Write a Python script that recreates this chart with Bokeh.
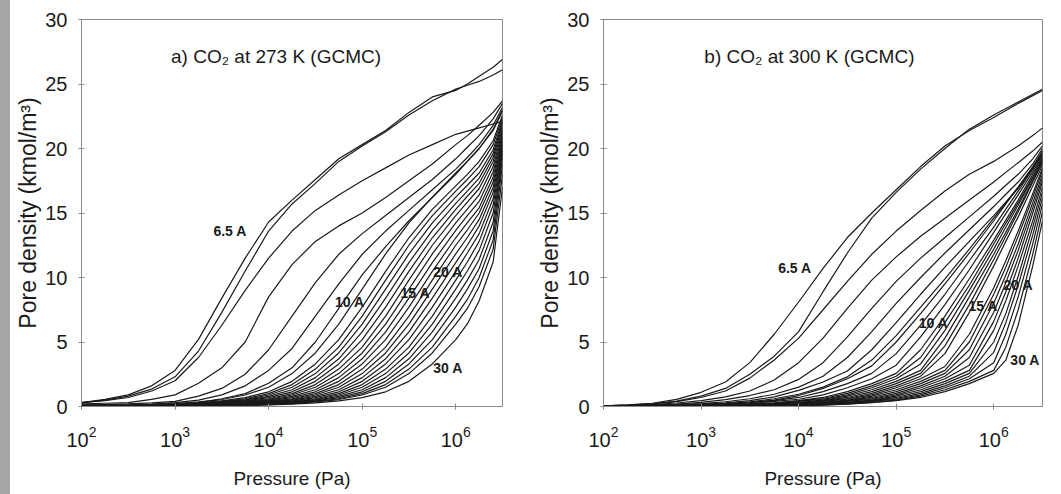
from bokeh.plotting import figure
from bokeh.layouts import row
from bokeh.models import Div
from bokeh.core.properties import value
from bokeh.embed import file_html
from bokeh.resources import INLINE

# ---------------- data ----------------
pressure = [1e2, 1.78e2, 3.16e2, 5.62e2, 1e3, 1.78e3, 3.16e3, 5.62e3, 1e4, 1.78e4, 3.16e4,
            5.62e4, 1e5, 1.78e5, 3.16e5, 5.62e5, 1e6, 1.33e6, 1.78e6, 2.51e6, 3.16e6]

pore_widths = [6.5, 7, 7.5, 8, 8.5, 9, 9.5, 10, 11, 12, 13, 14, 15, 16, 17, 18, 19, 20,
               21, 22, 23, 24, 25, 26, 27, 28, 29, 30]

density_273 = [
    [0.3, 0.55, 0.9, 1.6, 2.8, 5.2, 8.4, 11.5, 14.3, 16.0, 17.6, 19.2, 20.3, 21.4, 22.8, 24.0, 24.5, 25.0, 25.6, 26.3, 26.9],
    [0.3, 0.5, 0.8, 1.35, 2.3, 4.3, 7.3, 10.5, 13.6, 15.7, 17.3, 19.0, 20.2, 21.3, 22.6, 23.7, 24.6, 24.9, 25.2, 25.7, 26.1],
    [0.3, 0.45, 0.7, 1.2, 2.0, 3.8, 6.3, 9.0, 11.5, 13.6, 15.2, 16.4, 17.5, 18.5, 19.5, 20.3, 21.1, 21.35, 21.6, 21.9, 22.1],
    [0.2, 0.25, 0.3, 0.55, 0.9, 1.8, 3.0, 5.0, 8.5, 11.0, 12.8, 14.0, 15.0, 16.2, 17.5, 18.8, 20.3, 21.0, 21.8, 22.8, 23.7],
    [0.1, 0.15, 0.2, 0.28, 0.4, 0.8, 1.4, 2.5, 4.4, 7.0, 9.6, 11.8, 13.4, 14.8, 16.2, 17.6, 19.2, 20.1, 21.0, 22.3, 23.5],
    [0.1, 0.1, 0.1, 0.18, 0.3, 0.5, 0.9, 1.6, 2.8, 4.5, 7.0, 9.5, 11.8, 13.6, 15.2, 16.8, 18.4, 19.3, 20.3, 21.8, 23.2],
    [0.1, 0.1, 0.1, 0.14, 0.2, 0.3, 0.6, 1.0, 1.8, 3.0, 5.0, 7.6, 10.2, 12.4, 14.4, 16.2, 18.0, 19.0, 20.0, 21.5, 23.0],
    [0.05, 0.07, 0.1, 0.15, 0.23, 0.36, 0.54, 0.89, 1.49, 2.55, 4.15, 6.38, 9.1, 11.83, 14.23, 16.23, 18.1, 19.0, 20.0, 21.4, 22.9],
    [0.04, 0.06, 0.08, 0.12, 0.19, 0.28, 0.44, 0.69, 1.14, 1.95, 3.3, 5.18, 7.7, 10.48, 13.08, 15.28, 17.1, 18.0, 19.0, 20.6, 22.6],
    [0.04, 0.05, 0.07, 0.11, 0.17, 0.25, 0.40, 0.60, 1.00, 1.70, 2.90, 4.60, 7.00, 9.80, 12.50, 14.80, 16.70, 17.6, 18.6, 20.3, 22.4],
    [0.03, 0.05, 0.07, 0.10, 0.15, 0.23, 0.36, 0.54, 0.89, 1.49, 2.55, 4.15, 6.38, 9.10, 11.83, 14.23, 16.23, 17.15, 18.1, 19.9, 22.2],
    [0.03, 0.04, 0.06, 0.09, 0.13, 0.21, 0.32, 0.49, 0.78, 1.30, 2.24, 3.70, 5.78, 8.40, 11.15, 13.65, 15.75, 16.7, 17.7, 19.6, 22.0],
    [0.03, 0.04, 0.06, 0.08, 0.12, 0.19, 0.28, 0.44, 0.69, 1.14, 1.95, 3.30, 5.18, 7.70, 10.48, 13.08, 15.28, 16.3, 17.3, 19.3, 21.8],
    [0.02, 0.03, 0.05, 0.07, 0.10, 0.17, 0.25, 0.40, 0.60, 1.00, 1.70, 2.90, 4.60, 7.00, 9.80, 12.50, 14.80, 15.85, 16.9, 19.0, 21.6],
    [0.02, 0.03, 0.05, 0.07, 0.09, 0.15, 0.23, 0.36, 0.54, 0.89, 1.49, 2.55, 4.15, 6.38, 9.10, 11.83, 14.23, 15.3, 16.4, 18.6, 21.4],
    [0.02, 0.03, 0.04, 0.06, 0.09, 0.13, 0.21, 0.32, 0.49, 0.78, 1.30, 2.24, 3.70, 5.78, 8.40, 11.15, 13.65, 14.8, 15.9, 18.2, 21.2],
    [0.02, 0.03, 0.04, 0.06, 0.08, 0.12, 0.19, 0.28, 0.44, 0.69, 1.14, 1.95, 3.30, 5.18, 7.70, 10.48, 13.08, 14.25, 15.4, 17.8, 21.0],
    [0.02, 0.03, 0.04, 0.05, 0.07, 0.10, 0.17, 0.25, 0.40, 0.60, 1.00, 1.70, 2.90, 4.60, 7.00, 9.80, 12.50, 13.7, 15.0, 17.4, 20.8],
    [0.02, 0.02, 0.03, 0.05, 0.07, 0.09, 0.15, 0.23, 0.36, 0.54, 0.89, 1.49, 2.55, 4.15, 6.38, 9.10, 11.83, 13.1, 14.5, 17.0, 20.6],
    [0.01, 0.02, 0.03, 0.04, 0.06, 0.09, 0.13, 0.21, 0.32, 0.49, 0.78, 1.30, 2.24, 3.70, 5.78, 8.40, 11.15, 12.5, 14.0, 16.6, 20.4],
    [0.01, 0.02, 0.03, 0.04, 0.06, 0.08, 0.12, 0.19, 0.28, 0.44, 0.69, 1.14, 1.95, 3.30, 5.18, 7.70, 10.48, 11.9, 13.4, 16.1, 20.2],
    [0.01, 0.02, 0.02, 0.03, 0.05, 0.07, 0.10, 0.17, 0.25, 0.40, 0.60, 1.00, 1.70, 2.90, 4.60, 7.00, 9.80, 11.2, 12.8, 15.6, 20.0],
    [0.01, 0.02, 0.02, 0.03, 0.05, 0.07, 0.09, 0.15, 0.23, 0.36, 0.54, 0.89, 1.49, 2.55, 4.15, 6.38, 9.10, 10.5, 12.1, 15.0, 19.8],
    [0.01, 0.01, 0.02, 0.03, 0.04, 0.06, 0.09, 0.13, 0.21, 0.32, 0.49, 0.78, 1.30, 2.24, 3.70, 5.78, 8.40, 9.8, 11.4, 14.3, 19.6],
    [0.01, 0.01, 0.02, 0.03, 0.04, 0.06, 0.08, 0.12, 0.19, 0.28, 0.44, 0.69, 1.14, 1.95, 3.30, 5.18, 7.70, 9.1, 10.7, 13.6, 19.3],
    [0.01, 0.01, 0.02, 0.03, 0.04, 0.05, 0.07, 0.10, 0.17, 0.25, 0.40, 0.60, 1.00, 1.70, 2.90, 4.60, 7.00, 8.3, 10.0, 12.9, 18.8],
    [0.01, 0.01, 0.02, 0.02, 0.03, 0.05, 0.07, 0.09, 0.15, 0.23, 0.36, 0.54, 0.89, 1.49, 2.55, 4.15, 6.38, 7.6, 9.3, 12.2, 18.0],
    [0.01, 0.01, 0.01, 0.02, 0.03, 0.04, 0.06, 0.08, 0.12, 0.19, 0.28, 0.44, 0.69, 1.14, 1.95, 3.30, 5.18, 6.4, 8.2, 11.2, 17.0],
]

density_300 = [
    [0.05, 0.12, 0.25, 0.55, 1.1, 1.9, 3.4, 5.6, 8.1, 10.7, 13.1, 15.0, 16.8, 18.6, 20.2, 21.4, 22.4, 22.95, 23.5, 24.1, 24.5],
    [0.05, 0.1, 0.2, 0.42, 0.8, 1.4, 2.5, 3.9, 5.8, 8.9, 11.9, 14.6, 16.6, 18.4, 20.0, 21.5, 22.6, 23.1, 23.6, 24.2, 24.6],
    [0.05, 0.1, 0.2, 0.38, 0.7, 1.2, 2.2, 3.6, 5.3, 7.5, 9.7, 11.8, 13.6, 15.2, 16.7, 18.0, 19.0, 19.6, 20.2, 21.0, 21.6],
    [0.02, 0.06, 0.15, 0.27, 0.45, 0.75, 1.2, 2.05, 3.4, 5.3, 7.6, 9.8, 11.6, 13.2, 14.6, 16.0, 17.4, 18.15, 18.9, 19.8, 20.5],
    [0.02, 0.05, 0.1, 0.18, 0.32, 0.53, 0.85, 1.3, 2.1, 3.4, 5.4, 7.6, 9.7, 11.5, 13.1, 14.7, 16.3, 17.15, 18.0, 19.2, 20.2],
    [0.01, 0.04, 0.08, 0.14, 0.23, 0.37, 0.6, 0.95, 1.5, 2.35, 3.8, 5.8, 8.0, 10.0, 11.9, 13.7, 15.5, 16.45, 17.4, 18.8, 20.0],
    [0.01, 0.03, 0.06, 0.11, 0.18, 0.28, 0.45, 0.75, 1.25, 1.9, 2.75, 4.4, 6.5, 8.7, 10.8, 12.8, 14.8, 15.85, 16.9, 18.4, 19.8],
    [0.01, 0.03, 0.05, 0.09, 0.14, 0.22, 0.36, 0.6, 0.95, 1.5, 2.3, 3.6, 5.5, 7.7, 9.9, 12.2, 14.6, 15.8, 17.0, 18.6, 19.8],
    [0.01, 0.02, 0.04, 0.07, 0.11, 0.18, 0.3, 0.5, 0.85, 1.4, 2.15, 3.15, 5.0, 7.2, 9.5, 11.9, 14.4, 15.7, 17.0, 18.5, 19.6],
    [0.03, 0.04, 0.05, 0.08, 0.11, 0.18, 0.29, 0.46, 0.70, 1.15, 1.77, 2.57, 4.1, 6.3, 8.7, 11.3, 13.9, 15.3, 16.7, 18.4, 19.5],
    [0.02, 0.03, 0.045, 0.07, 0.09, 0.14, 0.23, 0.40, 0.56, 0.90, 1.45, 2.15, 3.2, 5.4, 7.9, 10.6, 13.5, 14.95, 16.4, 18.2, 19.4],
    [0.02, 0.03, 0.04, 0.05, 0.07, 0.11, 0.18, 0.29, 0.46, 0.70, 1.15, 1.77, 2.57, 4.4, 7.0, 9.9, 12.9, 14.45, 16.0, 18.0, 19.3],
    [0.02, 0.03, 0.04, 0.05, 0.07, 0.10, 0.16, 0.26, 0.43, 0.62, 1.02, 1.60, 2.35, 3.8, 6.5, 9.4, 12.6, 14.2, 15.8, 17.8, 19.2],
    [0.02, 0.02, 0.03, 0.04, 0.06, 0.09, 0.14, 0.23, 0.40, 0.56, 0.90, 1.45, 2.15, 3.3, 5.9, 9.0, 12.2, 13.9, 15.6, 17.7, 19.1],
    [0.02, 0.02, 0.03, 0.04, 0.05, 0.08, 0.12, 0.20, 0.32, 0.50, 0.80, 1.30, 1.95, 2.8, 5.3, 8.5, 11.8, 13.5, 15.3, 17.5, 19.0],
    [0.02, 0.02, 0.03, 0.04, 0.05, 0.07, 0.11, 0.18, 0.29, 0.46, 0.70, 1.15, 1.77, 2.57, 4.7, 7.9, 11.4, 13.2, 15.1, 17.4, 18.9],
    [0.02, 0.02, 0.03, 0.04, 0.05, 0.07, 0.10, 0.16, 0.26, 0.43, 0.62, 1.02, 1.60, 2.35, 4.1, 7.3, 10.9, 12.8, 14.7, 17.1, 18.7],
    [0.02, 0.02, 0.02, 0.03, 0.045, 0.06, 0.09, 0.14, 0.23, 0.40, 0.56, 0.90, 1.45, 2.15, 3.1, 5.6, 9.2, 11.3, 13.6, 16.5, 18.5],
    [0.02, 0.02, 0.02, 0.03, 0.04, 0.05, 0.08, 0.12, 0.20, 0.32, 0.50, 0.80, 1.30, 1.95, 2.8, 5.0, 8.7, 10.8, 13.2, 16.2, 18.3],
    [0.01, 0.01, 0.02, 0.03, 0.04, 0.05, 0.07, 0.11, 0.18, 0.29, 0.46, 0.70, 1.15, 1.77, 2.57, 4.4, 8.0, 10.2, 12.6, 15.8, 18.0],
    [0.01, 0.01, 0.02, 0.03, 0.04, 0.05, 0.07, 0.10, 0.16, 0.26, 0.43, 0.62, 1.02, 1.60, 2.35, 3.8, 7.3, 9.6, 12.1, 15.4, 17.7],
    [0.01, 0.01, 0.02, 0.02, 0.03, 0.045, 0.06, 0.09, 0.14, 0.23, 0.40, 0.56, 0.90, 1.45, 2.15, 3.2, 6.6, 8.9, 11.5, 15.0, 17.4],
    [0.01, 0.01, 0.02, 0.02, 0.03, 0.04, 0.05, 0.08, 0.12, 0.20, 0.32, 0.50, 0.80, 1.30, 1.95, 2.8, 5.9, 8.2, 10.9, 14.4, 17.0],
    [0.01, 0.01, 0.02, 0.02, 0.03, 0.04, 0.05, 0.07, 0.11, 0.18, 0.29, 0.46, 0.70, 1.15, 1.77, 2.57, 5.0, 7.2, 10.1, 13.9, 16.6],
    [0.01, 0.01, 0.02, 0.02, 0.03, 0.04, 0.05, 0.07, 0.10, 0.16, 0.26, 0.43, 0.62, 1.02, 1.60, 2.35, 4.2, 6.5, 9.4, 13.3, 16.2],
    [0.01, 0.01, 0.02, 0.02, 0.02, 0.03, 0.045, 0.06, 0.09, 0.14, 0.23, 0.40, 0.56, 0.90, 1.45, 2.15, 3.4, 5.6, 8.5, 12.6, 15.7],
    [0.01, 0.01, 0.02, 0.02, 0.02, 0.03, 0.04, 0.05, 0.08, 0.12, 0.20, 0.32, 0.50, 0.80, 1.30, 1.95, 2.8, 4.6, 7.5, 11.8, 15.1],
    [0.01, 0.01, 0.01, 0.02, 0.02, 0.03, 0.04, 0.05, 0.07, 0.11, 0.18, 0.29, 0.46, 0.70, 1.15, 1.77, 2.57, 3.6, 6.3, 10.9, 14.4],
]

pore_labels = ["6.5 A", "10 A", "15 A", "20 A", "30 A"]
label_x_273 = [2570, 51300, 257000, 575000, 575000]
label_y_273 = [13.6, 8.1, 8.8, 10.4, 3.0]
label_x_300 = [6170, 170000, 550000, 1260000, 1480000]
label_y_300 = [10.7, 6.5, 7.8, 9.4, 3.6]

titles = ["a) CO\u2082 at 273 K (GCMC)", "b) CO\u2082 at 300 K (GCMC)"]
title_x = [12000, 12900]
title_y = [27.1, 27.1]

x_limits = (1e2, 3.16e6)
y_ticks = [0, 5, 10, 15, 20, 25, 30]
x_ticks = [1e2, 1e3, 1e4, 1e5, 1e6]

for c in density_273 + density_300:
    assert len(c) == len(pressure), len(c)

# ---------------- styling ----------------
FONT = "Liberation Sans"
INK = "#1a1a1a"
FRAME = "#8a8a8a"


def panel(curves, lab_x, lab_y, title, tx, ty, frame_w, border_l, border_r):
    p = figure(x_axis_type="log", x_range=x_limits, y_range=(0, 30),
               frame_width=frame_w, frame_height=387,
               min_border_left=border_l, min_border_right=border_r,
               min_border_top=19, min_border_bottom=88,
               output_backend="svg", toolbar_location=None)
    p.xgrid.visible = False
    p.ygrid.visible = False
    p.outline_line_color = FRAME
    p.outline_line_width = 1
    p.background_fill_color = "white"
    p.border_fill_color = "white"

    p.multi_line(xs=[pressure] * len(curves), ys=curves,
                 line_color=INK, line_width=1.2)

    p.text(x=lab_x, y=lab_y, text=pore_labels,
           text_font=value(FONT), text_font_size="14px", text_font_style="bold",
           text_color=INK, text_align="left", text_baseline="middle")
    p.text(x=[tx], y=[ty], text=[title],
           text_font=value(FONT), text_font_size="19px",
           text_color=INK, text_align="center", text_baseline="middle")

    for ax in (p.xaxis[0], p.yaxis[0]):
        ax.axis_line_color = FRAME
        ax.major_tick_line_color = FRAME
        ax.major_tick_in = 3
        ax.major_tick_out = 3
        ax.minor_tick_line_color = None
        ax.major_label_text_font = FONT
        ax.major_label_text_font_size = "20px"
        ax.major_label_text_color = INK
        ax.axis_label_text_color = INK
        ax.axis_label_text_font = FONT
        ax.axis_label_text_font_style = "normal"

    p.xaxis.ticker = x_ticks
    p.yaxis.ticker = y_ticks
    p.xaxis.major_label_standoff = 16
    p.yaxis.major_label_standoff = 11
    p.xaxis.axis_label = "Pressure (Pa)"
    p.xaxis.axis_label_text_font_size = "19px"
    p.xaxis.axis_label_standoff = 18
    p.yaxis.axis_label = "Pore density (kmol/m\u00b3)"
    p.yaxis.axis_label_text_font_size = "23px"
    p.yaxis.axis_label_standoff = 1
    return p


pa = panel(density_273, label_x_273, label_y_273, titles[0], title_x[0], title_y[0], 421, 71, 28)
pb = panel(density_300, label_x_300, label_y_300, titles[1], title_x[1], title_y[1], 439, 73, 19)

strip = Div(width=10, height=494, margin=(0, 0, 0, 0),
            styles={"background-color": "#a6a6a6"})

layout = row(strip, pa, pb)
open("out.html", "w").write(file_html(layout, INLINE))
